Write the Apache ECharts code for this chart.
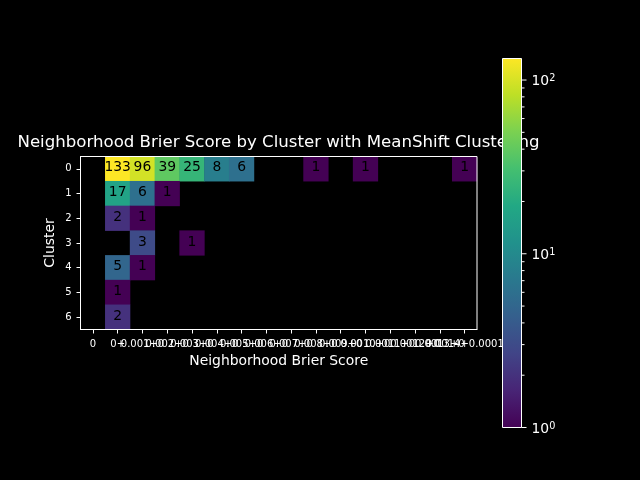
<!DOCTYPE html>
<html><head><meta charset="utf-8"><style>html,body{margin:0;background:#000}#c{width:640px;height:480px}</style>
<script src="https://cdn.jsdelivr.net/npm/echarts@6/dist/echarts.min.js"></script></head><body><div id="c"></div>
<script>
const xLabels=["0","0+","0.001+0","0.002+0","0.003+0","0.004+0","0.005+0","0.006+0","0.007+0","0.008+0","0.009+0","0.0010+0","0.0011+0","0.0012+0","0.0013+0","0.0014+0.0001"];
const yLabels=["0","1","2","3","4","5","6"];
const row0=[0,133,96,39,25,8,6,0,0,1,0,1,0,0,0,1];
const row1=[0,17,6,1,0,0,0,0,0,0,0,0,0,0,0,0];
const row2=[0,2,1,0,0,0,0,0,0,0,0,0,0,0,0,0];
const row3=[0,0,3,0,1,0,0,0,0,0,0,0,0,0,0,0];
const row4=[0,5,1,0,0,0,0,0,0,0,0,0,0,0,0,0];
const row5=[0,1,0,0,0,0,0,0,0,0,0,0,0,0,0,0];
const row6=[0,2,0,0,0,0,0,0,0,0,0,0,0,0,0,0];
const rows=[row0,row1,row2,row3,row4,row5,row6];
const vMin=1,vMax=133;
const majorTicks=[1,10,100];
const minorTicks=[2,3,4,5,6,7,8,9,20,30,40,50,60,70,80,90];
const viridis=['#440154','#482475','#414487','#355f8d','#2a788e','#21918c','#22a884','#44bf70','#7ad151','#bddf26','#fde725'];
const data=[];
rows.forEach((r,y)=>r.forEach((v,x)=>{if(v>0)data.push([x,y,Math.log10(v),v]);}));
const F='"DejaVu Sans"';
const axisCommon={axisLine:{show:true,lineStyle:{color:'#fff',width:1}},axisTick:{show:true,alignWithLabel:true,length:4,lineStyle:{color:'#fff',width:1}},splitLine:{show:false}};
const chart=echarts.init(document.getElementById('c'),null,{renderer:'canvas'});
chart.setOption({
 backgroundColor:'#000',animation:false,
 title:{text:'Neighborhood Brier Score by Cluster with MeanShift Clustering',left:273.5,top:129,textAlign:'center',z:1,
  textStyle:{color:'#fff',fontFamily:F,fontWeight:'normal',fontSize:16.6}},
 grid:[{left:80.5,top:156.5,width:396.5,height:173,show:true,borderColor:'#fff',borderWidth:1,backgroundColor:'transparent',z:10},
       {left:502.5,top:58.5,width:19,height:369,show:true,borderColor:'#fff',borderWidth:1,z:5,
        backgroundColor:new echarts.graphic.LinearGradient(0,1,0,0,viridis.map((c,i)=>({offset:i/(viridis.length-1),color:c})))}],
 xAxis:[{type:'category',gridIndex:0,data:xLabels,name:'Neighborhood Brier Score',nameLocation:'middle',nameGap:25,nameMoveOverlap:false,
   nameTextStyle:{color:'#fff',fontFamily:F,fontSize:13.9},...axisCommon,
   axisLabel:{interval:0,color:'#fff',fontFamily:F,fontSize:10,margin:10,hideOverlap:false}},
  {type:'value',gridIndex:1,min:0,max:1,show:false}],
 yAxis:[{type:'category',gridIndex:0,inverse:true,data:yLabels,name:'Cluster',nameLocation:'middle',nameGap:23,nameMoveOverlap:false,
   nameTextStyle:{color:'#fff',fontFamily:F,fontSize:13.9},...axisCommon,
   axisLabel:{interval:0,color:'#fff',fontFamily:F,fontSize:10,margin:9}},
  {type:'log',gridIndex:1,min:vMin,max:vMax,logBase:10,show:false}],
 visualMap:{type:'continuous',seriesIndex:0,dimension:2,min:0,max:Math.log10(vMax),show:false,inRange:{color:viridis}},
 series:[
  {type:'heatmap',xAxisIndex:0,yAxisIndex:0,data:data,encode:{x:0,y:1,value:2},z:2,
   label:{show:true,formatter:p=>p.data[3],color:'#000',fontFamily:F,fontSize:13.9,offset:[0,-1]},itemStyle:{borderWidth:0}},
  {type:'scatter',xAxisIndex:1,yAxisIndex:1,data:majorTicks.map(v=>[1,v]),symbol:'rect',symbolSize:[5,1],symbolOffset:[2.5,0],silent:true,z:6,itemStyle:{color:'#fff',opacity:1},
   label:{show:true,position:'right',distance:5,offset:[0,1.5],color:'#fff',fontFamily:F,
    formatter:p=>'10{s|'+Math.round(Math.log10(p.data[1]))+'}',fontSize:13.9,rich:{s:{fontSize:9.7,verticalAlign:'top',color:'#fff',fontFamily:F,padding:[0,0,6,0]}}}},
  {type:'scatter',xAxisIndex:1,yAxisIndex:1,data:minorTicks.map(v=>[1,v]),symbol:'rect',symbolSize:[3,1],symbolOffset:[1.5,0],silent:true,z:6,itemStyle:{color:'#fff',opacity:1}}
 ]
});
</script></body></html>
